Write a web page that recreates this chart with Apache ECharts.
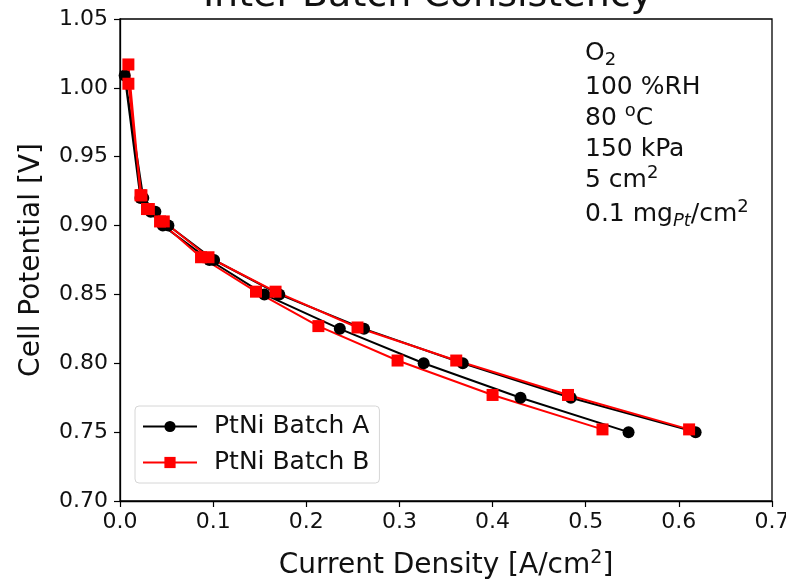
<!DOCTYPE html>
<html>
<head>
<meta charset="utf-8">
<script src="https://cdn.jsdelivr.net/npm/echarts@6/dist/echarts.min.js"></script>
<style>html,body{margin:0;padding:0;background:#fff}#c{width:786px;height:580px}</style>
</head>
<body>
<div id="c"></div>
<script>
// Batch A: upper-current branch (0.75 V up to OCV), then lower-current branch back down
const batchA_current = [0.618, 0.484, 0.368, 0.262, 0.171, 0.101, 0.052, 0.038, 0.025, 0.005,
                        0.022, 0.033, 0.046, 0.096, 0.155, 0.236, 0.326, 0.430, 0.546];
const batchA_voltage = [0.750, 0.775, 0.800, 0.825, 0.850, 0.875, 0.900, 0.910, 0.920, 1.009,
                        0.920, 0.910, 0.900, 0.875, 0.850, 0.825, 0.800, 0.775, 0.750];
// Batch B
const batchB_current = [0.611, 0.481, 0.361, 0.255, 0.167, 0.095, 0.047, 0.031, 0.023, 0.009,
                        0.009, 0.022, 0.029, 0.043, 0.087, 0.146, 0.213, 0.298, 0.400, 0.518];
const batchB_voltage = [0.752, 0.777, 0.802, 0.826, 0.852, 0.877, 0.903, 0.912, 0.922, 1.003,
                        1.017, 0.922, 0.912, 0.903, 0.877, 0.852, 0.827, 0.802, 0.777, 0.752];
const seriesNames = ['PtNi Batch A', 'PtNi Batch B'];
const xTicks = [0.0, 0.7, 0.1];
const yTicks = [0.70, 1.05, 0.05];

const FONT = 'DejaVu Sans';
const zip = (xs, ys) => xs.map((x, i) => [x, ys[i]]);

const chart = echarts.init(document.getElementById('c'), null, {renderer: 'canvas'});
const annot = [
  {y: 53, text: 'O{sub|2}'},
  {y: 87, text: '100 %RH'},
  {y: 118, text: '80 {sup|o}C'},
  {y: 149, text: '150 kPa'},
  {y: 180, text: '5 cm{sup|2}'},
  {y: 214, text: '0.1 mg{subi|Pt}/cm{sup|2}'}
];
chart.setOption({
  animation: false,
  backgroundColor: '#fff',
  title: {
    text: 'Inter-Batch Consistency',
    left: 423, textAlign: 'center', top: -28,
    textStyle: {fontFamily: FONT, fontSize: 38, fontWeight: 'normal', color: '#111'}
  },
  grid: {left: 120, right: 14, top: 19, bottom: 79, containLabel: false, outerBoundsMode: 'none',
         show: true, borderColor: '#000', borderWidth: 1.3, backgroundColor: 'transparent'},
  legend: {
    data: seriesNames,
    orient: 'vertical',
    left: 135, top: 406,
    itemWidth: 54, itemHeight: 14, itemGap: 11,
    padding: [8, 10, 8, 7],
    borderColor: '#d6d6d6', borderWidth: 1, borderRadius: 4,
    backgroundColor: 'rgba(255,255,255,0.8)',
    textStyle: {fontFamily: FONT, fontSize: 25, color: '#111', padding: [0, 0, 0, 12]}
  },
  xAxis: {
    type: 'value', min: xTicks[0], max: xTicks[1], interval: xTicks[2],
    name: 'Current Density [A/cm{sup|2}]', nameLocation: 'middle', nameGap: 48,
    nameTextStyle: {fontFamily: FONT, fontSize: 28, color: '#111', rich: {sup: {fontFamily: FONT, fontSize: 19, verticalAlign: 'top', padding: [0, 0, 14, 0]}}},
    axisLine: {show: true, onZero: false, lineStyle: {color: '#000', width: 1.3}},
    axisTick: {show: true, inside: false, length: 6, lineStyle: {color: '#000', width: 1.2}},
    axisLabel: {fontFamily: FONT, fontSize: 22, color: '#111', margin: 10, formatter: v => v.toFixed(1)},
    splitLine: {show: false}
  },
  yAxis: {
    type: 'value', min: yTicks[0], max: yTicks[1], interval: yTicks[2],
    name: 'Cell Potential [V]', nameLocation: 'middle', nameGap: 74, nameRotate: 90,
    nameTextStyle: {fontFamily: FONT, fontSize: 28, color: '#111'},
    axisLine: {show: true, onZero: false, lineStyle: {color: '#000', width: 1.3}},
    axisTick: {show: true, inside: false, length: 6, lineStyle: {color: '#000', width: 1.2}},
    axisLabel: {fontFamily: FONT, fontSize: 22, color: '#111', margin: 12, formatter: v => v.toFixed(2)},
    splitLine: {show: false}
  },
  series: [
    {
      name: seriesNames[0], type: 'line', data: zip(batchA_current, batchA_voltage),
      symbol: 'circle', symbolSize: 12, showAllSymbol: true,
      itemStyle: {color: '#000'}, lineStyle: {color: '#000', width: 2}
    },
    {
      name: seriesNames[1], type: 'line', data: zip(batchB_current, batchB_voltage),
      symbol: 'rect', symbolSize: 12, showAllSymbol: true,
      itemStyle: {color: '#ff0000'}, lineStyle: {color: '#ff0000', width: 2}
    }
  ],
  graphic: annot.map(a => ({
    type: 'text', x: 585, y: a.y, silent: true,
    style: {
      text: a.text, fill: '#111', font: '25px "' + FONT + '"', verticalAlign: 'middle',
      rich: {
        sub: {fontFamily: FONT, fontSize: 18, fill: '#111', padding: [15, 0, 0, 0]},
        subi: {fontFamily: FONT, fontSize: 18, fontStyle: 'italic', fill: '#111', padding: [15, 0, 0, 0]},
        sup: {fontFamily: FONT, fontSize: 18, fill: '#111', padding: [0, 0, 13, 0]}
      }
    }
  }))
});
</script>
</body>
</html>
